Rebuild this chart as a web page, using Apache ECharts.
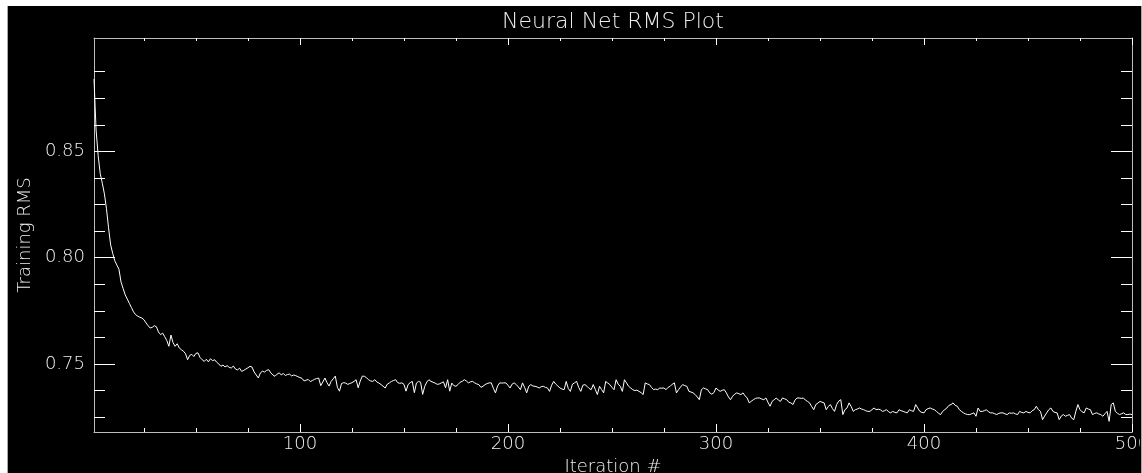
<!DOCTYPE html>
<html>
<head>
<meta charset="utf-8">
<script src="https://cdn.jsdelivr.net/npm/echarts@6/dist/echarts.min.js"></script>
<style>
html,body{margin:0;padding:0;background:#fff;width:1142px;height:473px;overflow:hidden}
#panel{position:absolute;left:7px;top:6px;width:1135px;height:467px;box-sizing:border-box;background:#000;border-left:1px solid #a8a8a8;border-right:1px solid #a8a8a8}
#chart{position:absolute;left:0;top:0;width:1140px;height:473px}
</style>
</head>
<body>
<div id="panel"></div>
<div id="chart"></div>
<script>
// ---- data ----
const chartTitle = 'Neural Net RMS Plot';
const xAxisName = 'Iteration #';
const yAxisName = 'Training RMS';
const xTickValues = [100, 200, 300, 400, 500];
const xTickLabels = ['100', '200', '300', '400', '500'];
const yTickValues = [0.75, 0.80, 0.85];
const yTickLabels = ['0.75', '0.80', '0.85'];
const xRange = [1, 500];
const yRange = [0.718, 0.9033];

// Training RMS, iterations 1..98
const rmsPart1 = [
  0.8840, 0.8600, 0.8480, 0.8395, 0.8350, 0.8300, 0.8230, 0.8140, 0.8060, 0.8020,
  0.7985, 0.7965, 0.7945, 0.7885, 0.7855, 0.7825, 0.7805, 0.7785, 0.7765, 0.7745,
  0.7732, 0.7725, 0.7720, 0.7716, 0.7708, 0.7693, 0.7680, 0.7669, 0.7672, 0.7680,
  0.7675, 0.7650, 0.7638, 0.7645, 0.7628, 0.7610, 0.7583, 0.7636, 0.7600, 0.7583,
  0.7595, 0.7575, 0.7567, 0.7560, 0.7548, 0.7520, 0.7540, 0.7545, 0.7535, 0.7550,
  0.7552, 0.7530, 0.7520, 0.7512, 0.7522, 0.7510, 0.7525, 0.7515, 0.7520, 0.7508,
  0.7500, 0.7489, 0.7495, 0.7486, 0.7492, 0.7484, 0.7481, 0.7490, 0.7476, 0.7472,
  0.7480, 0.7465, 0.7470, 0.7476, 0.7482, 0.7489, 0.7485, 0.7462, 0.7448, 0.7434,
  0.7458, 0.7466, 0.7462, 0.7470, 0.7473, 0.7458, 0.7448, 0.7442, 0.7452, 0.7458,
  0.7449, 0.7455, 0.7446, 0.7450, 0.7452, 0.7444, 0.7448, 0.7445
];
// iterations 99..198
const rmsPart2 = [
  0.7440, 0.7436, 0.7432, 0.7420, 0.7424, 0.7427, 0.7417, 0.7422, 0.7428, 0.7431,
  0.7434, 0.7398, 0.7415, 0.7434, 0.7412, 0.7396, 0.7418, 0.7430, 0.7443, 0.7390,
  0.7372, 0.7408, 0.7412, 0.7410, 0.7404, 0.7408, 0.7412, 0.7418, 0.7426, 0.7388,
  0.7420, 0.7443, 0.7442, 0.7435, 0.7426, 0.7420, 0.7418, 0.7426, 0.7415, 0.7410,
  0.7403, 0.7395, 0.7387, 0.7405, 0.7411, 0.7418, 0.7422, 0.7426, 0.7412, 0.7409,
  0.7411, 0.7404, 0.7372, 0.7403, 0.7412, 0.7418, 0.7365, 0.7410, 0.7418, 0.7414,
  0.7357, 0.7395, 0.7415, 0.7426, 0.7418, 0.7414, 0.7410, 0.7404, 0.7406, 0.7411,
  0.7416, 0.7388, 0.7426, 0.7372, 0.7410, 0.7398, 0.7395, 0.7403, 0.7414, 0.7418,
  0.7426, 0.7420, 0.7411, 0.7416, 0.7418, 0.7411, 0.7406, 0.7403, 0.7390, 0.7395,
  0.7403, 0.7408, 0.7411, 0.7411, 0.7385, 0.7364, 0.7396, 0.7411, 0.7410, 0.7411
];
// iterations 199..298
const rmsPart3 = [
  0.7411, 0.7400, 0.7387, 0.7405, 0.7411, 0.7403, 0.7392, 0.7379, 0.7411, 0.7390,
  0.7364, 0.7395, 0.7403, 0.7396, 0.7395, 0.7392, 0.7387, 0.7393, 0.7395, 0.7390,
  0.7387, 0.7371, 0.7400, 0.7418, 0.7405, 0.7396, 0.7387, 0.7382, 0.7379, 0.7418,
  0.7385, 0.7371, 0.7405, 0.7411, 0.7418, 0.7390, 0.7371, 0.7400, 0.7403, 0.7395,
  0.7385, 0.7379, 0.7403, 0.7380, 0.7356, 0.7395, 0.7380, 0.7364, 0.7418, 0.7410,
  0.7403, 0.7390, 0.7379, 0.7426, 0.7405, 0.7395, 0.7371, 0.7426, 0.7411, 0.7395,
  0.7387, 0.7379, 0.7375, 0.7377, 0.7371, 0.7365, 0.7356, 0.7411, 0.7406, 0.7403,
  0.7390, 0.7379, 0.7382, 0.7379, 0.7387, 0.7386, 0.7387, 0.7379, 0.7390, 0.7395,
  0.7405, 0.7411, 0.7364, 0.7379, 0.7392, 0.7403, 0.7398, 0.7395, 0.7371, 0.7368,
  0.7364, 0.7356, 0.7345, 0.7332, 0.7379, 0.7387, 0.7383, 0.7379, 0.7364, 0.7358
];
// iterations 299..398
const rmsPart4 = [
  0.7365, 0.7387, 0.7378, 0.7371, 0.7376, 0.7379, 0.7364, 0.7345, 0.7332, 0.7348,
  0.7358, 0.7364, 0.7360, 0.7356, 0.7364, 0.7350, 0.7340, 0.7317, 0.7325, 0.7332,
  0.7338, 0.7340, 0.7340, 0.7335, 0.7332, 0.7340, 0.7320, 0.7301, 0.7324, 0.7332,
  0.7340, 0.7330, 0.7324, 0.7340, 0.7336, 0.7332, 0.7320, 0.7317, 0.7309, 0.7330,
  0.7340, 0.7340, 0.7338, 0.7340, 0.7330, 0.7324, 0.7317, 0.7300, 0.7285, 0.7309,
  0.7316, 0.7324, 0.7320, 0.7317, 0.7285, 0.7300, 0.7309, 0.7290, 0.7277, 0.7309,
  0.7325, 0.7332, 0.7262, 0.7285, 0.7293, 0.7317, 0.7300, 0.7277, 0.7285, 0.7288,
  0.7293, 0.7288, 0.7285, 0.7280, 0.7277, 0.7277, 0.7285, 0.7293, 0.7285, 0.7287,
  0.7285, 0.7277, 0.7280, 0.7285, 0.7275, 0.7270, 0.7277, 0.7272, 0.7270, 0.7285,
  0.7280, 0.7277, 0.7273, 0.7270, 0.7285, 0.7280, 0.7277, 0.7309, 0.7293, 0.7277
];
// iterations 399..500
const rmsPart5 = [
  0.7272, 0.7270, 0.7285, 0.7290, 0.7293, 0.7288, 0.7285, 0.7277, 0.7268, 0.7262,
  0.7277, 0.7285, 0.7293, 0.7305, 0.7309, 0.7317, 0.7305, 0.7301, 0.7285, 0.7277,
  0.7270, 0.7265, 0.7262, 0.7262, 0.7266, 0.7270, 0.7254, 0.7293, 0.7277, 0.7277,
  0.7280, 0.7285, 0.7275, 0.7270, 0.7270, 0.7266, 0.7262, 0.7268, 0.7270, 0.7270,
  0.7265, 0.7262, 0.7270, 0.7268, 0.7270, 0.7265, 0.7262, 0.7277, 0.7272, 0.7270,
  0.7277, 0.7272, 0.7270, 0.7280, 0.7285, 0.7301, 0.7285, 0.7277, 0.7238, 0.7255,
  0.7270, 0.7285, 0.7293, 0.7277, 0.7272, 0.7270, 0.7238, 0.7255, 0.7262, 0.7254,
  0.7258, 0.7262, 0.7245, 0.7238, 0.7277, 0.7309, 0.7285, 0.7275, 0.7270, 0.7293,
  0.7288, 0.7285, 0.7262, 0.7267, 0.7270, 0.7265, 0.7262, 0.7254, 0.7266, 0.7277,
  0.7230, 0.7309, 0.7317, 0.7277, 0.7268, 0.7262, 0.7266, 0.7270, 0.7262, 0.7262,
  0.7264, 0.7262
];

const trainingRms = rmsPart1.concat(rmsPart2, rmsPart3, rmsPart4, rmsPart5);
const seriesData = trainingRms.map((v, k) => [k + 1, v]);

// ---- styling ----
const FONT = "'DejaVu Sans', sans-serif";
const TXT = '#eeeeee';
const FRAME = '#bdbdbd';
const TICK = '#ffffff';

function xAxisDef(pos, showLabels) {
  return {
    type: 'value', position: pos, min: xRange[0], max: xRange[1],
    minInterval: 100, maxInterval: 100, splitNumber: 5,
    axisLine: { show: true, onZero: false, lineStyle: { color: FRAME, width: 1 } },
    axisTick: { show: true, inside: true, length: pos === 'bottom' ? 8 : 7,
                customValues: xTickValues, lineStyle: { color: TICK, width: 1 } },
    minorTick: { show: true, splitNumber: 4, length: pos === 'bottom' ? 4 : 3,
                 lineStyle: { color: TICK, width: 1 } },
    axisLabel: { show: showLabels, customValues: xTickValues, margin: 3,
                 formatter: v => xTickLabels[xTickValues.indexOf(v)] ?? '',
                 color: TXT, fontFamily: FONT, fontSize: 18, fontWeight: 200 },
    splitLine: { show: false },
    name: showLabels ? xAxisName : '', nameLocation: 'middle', nameGap: 21,
    nameTextStyle: { color: TXT, fontFamily: FONT, fontSize: 18, fontWeight: 200 }
  };
}
function yAxisDef(pos, showLabels) {
  return {
    type: 'value', position: pos, min: yRange[0], max: yRange[1],
    minInterval: 0.05, maxInterval: 0.05, splitNumber: 4,
    axisLine: { show: true, onZero: false, lineStyle: { color: FRAME, width: 1 } },
    axisTick: { show: true, inside: true, length: 21,
                customValues: yTickValues, lineStyle: { color: TICK, width: 1 } },
    minorTick: { show: true, splitNumber: 4, length: 11, lineStyle: { color: TICK, width: 1 } },
    axisLabel: { show: showLabels, customValues: yTickValues, margin: 9,
                 formatter: v => yTickLabels[yTickValues.findIndex(t => Math.abs(t - v) < 1e-9)] ?? '',
                 color: TXT, fontFamily: FONT, fontSize: 18, fontWeight: 200 },
    splitLine: { show: false },
    name: showLabels ? yAxisName : '', nameLocation: 'middle', nameGap: 60, nameRotate: 90,
    nameTextStyle: { color: TXT, fontFamily: FONT, fontSize: 18, fontWeight: 200 }
  };
}

const chart = echarts.init(document.getElementById('chart'), null, { renderer: 'canvas' });
chart.setOption({
  animation: false,
  backgroundColor: 'transparent',
  grid: { left: 94, top: 38, right: 8, bottom: 41, containLabel: false, outerBoundsMode: 'none', show: false },
  graphic: [{
    type: 'text', x: 613, y: 22, silent: true,
    style: { text: chartTitle, fill: TXT, fontFamily: FONT, fontSize: 22, fontWeight: 200,
             align: 'center', verticalAlign: 'middle' }
  }],
  xAxis: [xAxisDef('bottom', true), xAxisDef('top', false)],
  yAxis: [yAxisDef('left', true), yAxisDef('right', false)],
  series: [{
    type: 'line', data: seriesData, xAxisIndex: 0, yAxisIndex: 0,
    showSymbol: false, symbol: 'none', silent: true, clip: true,
    lineStyle: { color: '#ffffff', width: 1 }
  }]
});
</script>
</body>
</html>
